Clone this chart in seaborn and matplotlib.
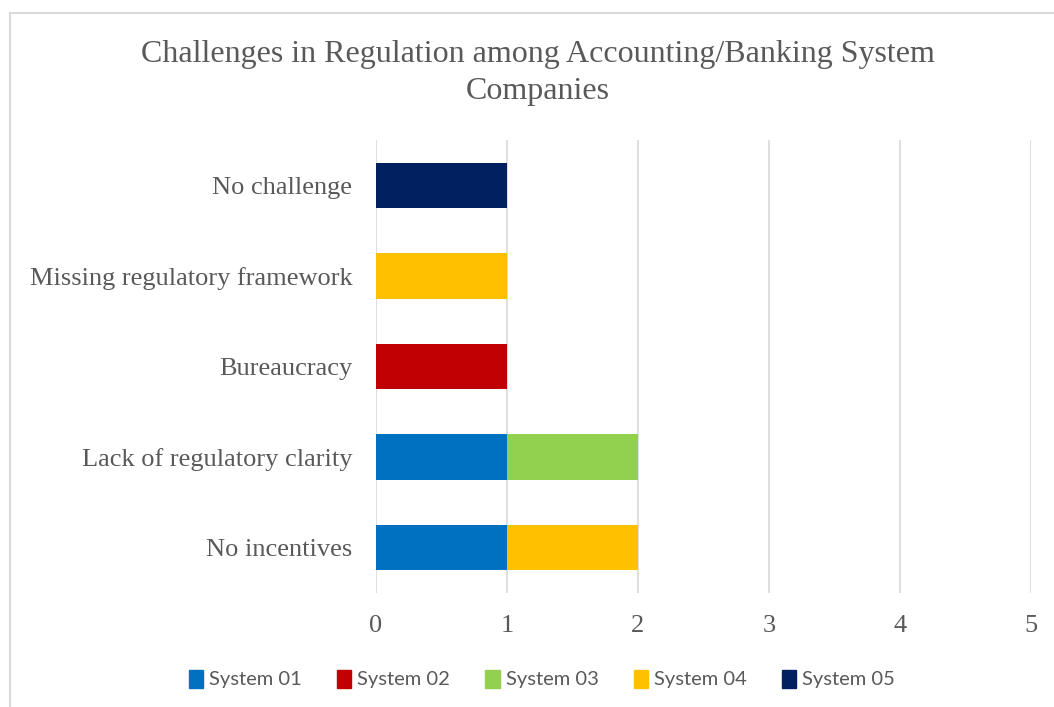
import matplotlib
matplotlib.use("Agg")
import matplotlib.pyplot as plt
import matplotlib.patches as mpatches
import seaborn as sns
import pandas as pd
import numpy as np

categories = ["No challenge", "Missing regulatory framework", "Bureaucracy",
              "Lack of regulatory clarity", "No incentives"]
series_names = ["System 01", "System 02", "System 03", "System 04", "System 05"]
system_01 = [0, 0, 0, 1, 1]
system_02 = [0, 0, 1, 0, 0]
system_03 = [0, 0, 0, 1, 0]
system_04 = [0, 1, 0, 0, 1]
system_05 = [1, 0, 0, 0, 0]
colors = ["#0070C0", "#C00000", "#92D050", "#FFC000", "#002060"]
x_ticks = [0, 1, 2, 3, 4, 5]
title = "Challenges in Regulation among Accounting/Banking System\nCompanies"

sns.set_theme(style="white")
plt.rcParams["font.family"] = ["Liberation Serif", "DejaVu Serif"]

values = np.array([system_01, system_02, system_03, system_04, system_05], dtype=float)
cum = np.cumsum(values, axis=0)

fig = plt.figure(figsize=(10.54, 7.07), dpi=100)
ax = fig.add_axes([376/1054, 1 - 593/707, (1031 - 376)/1054, (593 - 140)/707])

text_col = "#595959"
grid_col = "#D9D9D9"

# stacked bars via cumulative overlay, drawn from last series to first
for i in range(len(series_names) - 1, -1, -1):
    df = pd.DataFrame({"category": categories, "value": cum[i]})
    sns.barplot(data=df, x="value", y="category", orient="h", color=colors[i],
                width=0.5, saturation=1, linewidth=0, ax=ax, order=categories,
                zorder=3)

ax.set_xlim(0, 5)
ax.set_ylim(4.5, -0.5)
ax.set_xticks(x_ticks)
ax.set_xticklabels([str(t) for t in x_ticks])
ax.set_xlabel("")
ax.set_ylabel("")
for s in ax.spines.values():
    s.set_visible(False)
ax.grid(axis="x", color=grid_col, linewidth=1.2, zorder=0)
ax.grid(axis="y", visible=False)
ax.set_axisbelow(True)
ax.tick_params(axis="both", length=0, colors=text_col, labelsize=19)
ax.tick_params(axis="y", pad=17)
ax.tick_params(axis="x", pad=16)

fig.text(538/1054, 1 - 73/707, title, ha="center", va="center",
         fontsize=23, color=text_col, linespacing=1.38)

handles = [mpatches.Patch(color=c, label=n) for c, n in zip(colors, series_names)]
leg = fig.legend(handles=handles, loc="center", bbox_to_anchor=(542/1054, 1 - 679/707),
                 ncol=5, frameon=False, handlelength=0.7, handleheight=1.0,
                 handletextpad=0.3, columnspacing=1.75,
                 prop={"family": ["Lato", "DejaVu Sans"], "size": 14.5})
for t in leg.get_texts():
    t.set_color(text_col)

border = mpatches.Rectangle((10/1054, -0.1), 1.2, (707 - 13)/707 + 0.1,
                            transform=fig.transFigure, fill=False,
                            edgecolor=grid_col, linewidth=1.5, clip_on=False)
fig.patches.append(border)

fig.savefig("out.png", dpi=100)
